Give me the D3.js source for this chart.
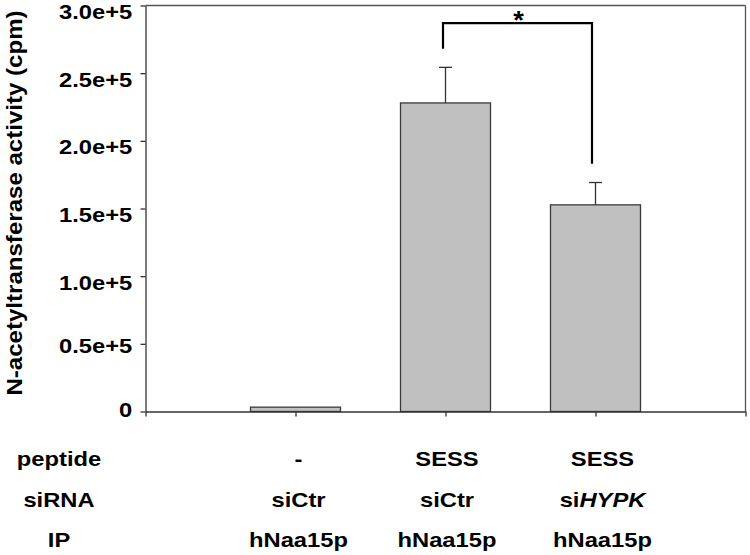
<!DOCTYPE html>
<html>
<head>
<meta charset="utf-8">
<script src="https://cdn.jsdelivr.net/npm/d3@7/dist/d3.min.js"></script>
<style>
  html, body { margin: 0; padding: 0; background: #fff; }
  svg { display: block; }
  text { font-family: "Liberation Sans", Arial, Helvetica, sans-serif; font-weight: bold; fill: #000; }
</style>
</head>
<body>
<svg id="chart" width="750" height="555"></svg>
<script>
// ---- data ----
const slots = ["lead", "c1", "c2", "c3", "trail"];
const categories = ["c1", "c2", "c3"];
const values = [3200, 228000, 152700];
const errors = [0, 26300, 16500];
const yTicks = [0, 50000, 100000, 150000, 200000, 250000, 300000];
const yTickLabels = ["0", "0.5e+5", "1.0e+5", "1.5e+5", "2.0e+5", "2.5e+5", "3.0e+5"];
const yLabel = "N-acetyltransferase activity (cpm)";
const rowLabels = ["peptide", "siRNA", "IP"];
const peptides = ["-", "SESS", "SESS"];
const sirnaPrefix = ["si", "si", "si"];
const sirnaGene = ["Ctr", "Ctr", "HYPK"];
const sirnaItalic = [false, false, true];
const ips = ["hNaa15p", "hNaa15p", "hNaa15p"];
const bracketFrom = "c2", bracketTo = "c3";
const bracketTop = 287000, bracketLeftEnd = 268000, bracketRightEnd = 183000;
const sigMark = "*";

// ---- layout ----
const svg = d3.select("#chart");
const x = d3.scalePoint().domain(slots).range([145.5, 745.5]);
const y = d3.scaleLinear().domain([0, 300000]).range([411.5, 5.5]);
const SX = 1.13; // horizontal stretch of the original typeface
const axisColor = "#333";

// bars
const barW = x.step() * 0.6;
svg.append("g").selectAll("rect").data(categories).join("rect")
  .attr("x", (d) => x(d) - barW / 2)
  .attr("y", (d, i) => y(values[i]))
  .attr("width", barW)
  .attr("height", (d, i) => y(0) - y(values[i]))
  .attr("fill", "#c0c0c0")
  .attr("stroke", "#3a3a3a")
  .attr("stroke-width", 1.3);

// error bars
const eb = svg.append("g").attr("stroke", "#333").attr("stroke-width", 1.3);
categories.forEach((c, i) => {
  if (!errors[i]) return;
  eb.append("line").attr("x1", x(c)).attr("x2", x(c))
    .attr("y1", y(values[i])).attr("y2", y(values[i] + errors[i]));
  eb.append("line").attr("x1", x(c) - 6.5).attr("x2", x(c) + 6.5)
    .attr("y1", y(values[i] + errors[i])).attr("y2", y(values[i] + errors[i]));
});

// frame: top and right borders
svg.append("line").attr("x1", x("lead")).attr("x2", x("trail"))
  .attr("y1", y(300000)).attr("y2", y(300000))
  .attr("stroke", "#555").attr("stroke-width", 1.3);
svg.append("line").attr("x1", x("trail")).attr("x2", x("trail"))
  .attr("y1", y(300000)).attr("y2", y(0))
  .attr("stroke", "#555").attr("stroke-width", 1.3);

// y axis
const yAxis = svg.append("g").attr("transform", `translate(${x("lead")},0)`)
  .call(d3.axisLeft(y).tickValues(yTicks)
    .tickFormat((d, i) => yTickLabels[yTicks.indexOf(d)])
    .tickSize(5).tickSizeOuter(0));
yAxis.select(".domain").attr("stroke", axisColor).attr("stroke-width", 1.3);
yAxis.selectAll(".tick line").attr("stroke", axisColor).attr("stroke-width", 1.3);
yAxis.selectAll(".tick text")
  .attr("x", -13.3 / SX)
  .attr("dy", null)
  .attr("y", (d) => d === 0 ? 5 : d === 50000 ? 9 : 13)
  .attr("transform", `scale(${SX},1)`)
  .style("font-size", "21px")
  .style("font-family", '"Liberation Sans", Arial, sans-serif')
  .style("font-weight", "bold")
  .attr("fill", "#000");

// x axis
const xAxis = svg.append("g").attr("transform", `translate(0,${y(0)})`)
  .call(d3.axisBottom(x).tickFormat(() => "").tickSize(5).tickSizeOuter(0));
xAxis.select(".domain").attr("stroke", axisColor).attr("stroke-width", 1.3);
xAxis.selectAll(".tick line").attr("stroke", axisColor).attr("stroke-width", 1.3);

// y label
svg.append("text")
  .attr("transform", `translate(21.5,203) rotate(-90) scale(1.12,1)`)
  .attr("text-anchor", "middle")
  .style("font-size", "21.5px")
  .text(yLabel);

// significance bracket
const bx1 = x(bracketFrom) - 2.5, bx2 = x(bracketTo) - 3.5;
svg.append("path")
  .attr("d", d3.line()([[bx1, y(bracketLeftEnd)], [bx1, y(bracketTop)], [bx2, y(bracketTop)], [bx2, y(bracketRightEnd)]]))
  .attr("fill", "none").attr("stroke", "#000").attr("stroke-width", 2.2);
svg.append("text")
  .attr("transform", `translate(${(bx1 + bx2) / 2 + 1},${y(bracketTop) + 6}) scale(1.05,1)`)
  .attr("text-anchor", "middle")
  .style("font-size", "26px")
  .text(sigMark);

// bottom table
const rowY = [465.5, 506.5, 546.5];
const colShift = [3, 1.5, 7];
const table = svg.append("g").style("font-size", "21px");
rowLabels.forEach((r, j) => {
  table.append("text")
    .attr("transform", `translate(59,${rowY[j]}) scale(${SX},1)`)
    .attr("text-anchor", "middle").text(r);
});
categories.forEach((c, i) => {
  const cx = x(c) + colShift[i];
  table.append("text")
    .attr("transform", `translate(${cx},${rowY[0]}) scale(${SX},1)`)
    .attr("text-anchor", "middle").text(peptides[i]);
  const t = table.append("text")
    .attr("transform", `translate(${cx},${rowY[1]}) scale(${SX},1)`)
    .attr("text-anchor", "middle");
  t.append("tspan").text(sirnaPrefix[i]);
  t.append("tspan").style("font-style", sirnaItalic[i] ? "italic" : "normal").text(sirnaGene[i]);
  table.append("text")
    .attr("transform", `translate(${cx},${rowY[2]}) scale(${SX},1)`)
    .attr("text-anchor", "middle").text(ips[i]);
});
</script>
</body>
</html>
